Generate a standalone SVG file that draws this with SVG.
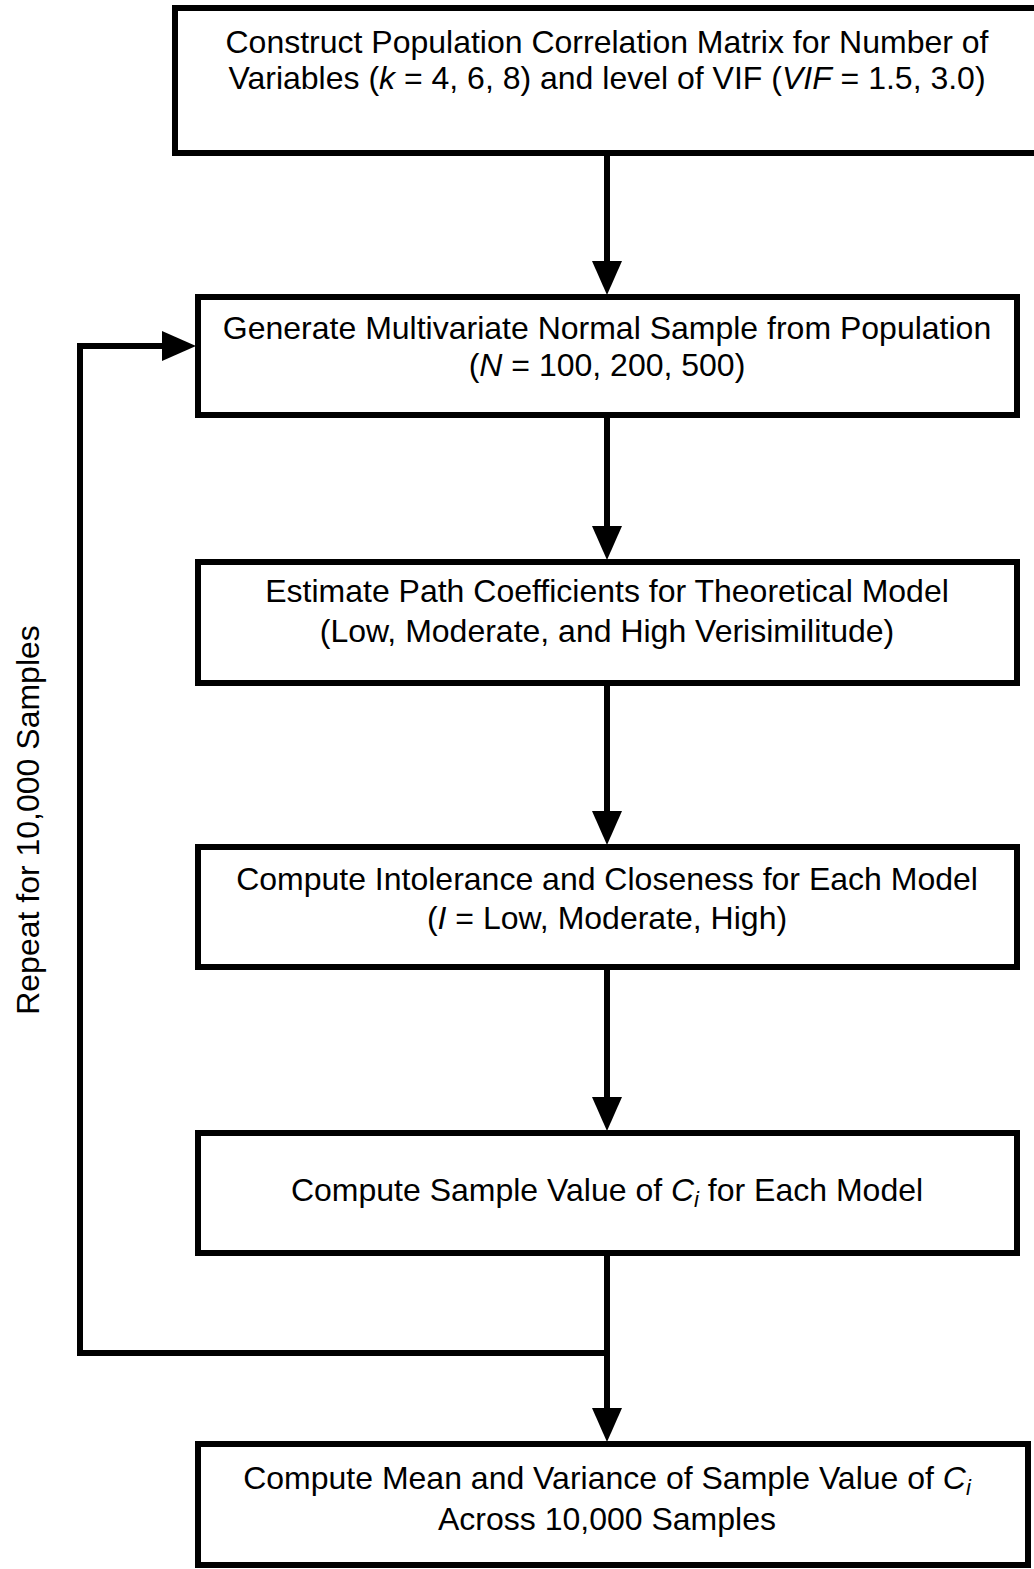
<svg xmlns="http://www.w3.org/2000/svg" width="1034" height="1569" viewBox="0 0 1034 1569">
  <style>
    .box { fill: #ffffff; stroke: #000000; stroke-width: 6; }
    .lbl { font-family: "Liberation Sans", Arial, sans-serif; font-size: 32px; fill: #000000; text-anchor: middle; }
    .it { font-style: italic; }
    .sub { font-size: 22px; font-style: italic; }
    .wire { fill: none; stroke: #000000; stroke-width: 6; stroke-linejoin: miter; }
  </style>
  <defs>
    <marker id="head" viewBox="0 0 34 30" refX="0" refY="15" markerWidth="34" markerHeight="30" markerUnits="userSpaceOnUse" orient="auto">
      <path d="M0,0 L34,15 L0,30 Z" fill="#000000"/>
    </marker>
  </defs>

  <rect width="1034" height="1569" fill="#ffffff"/>

  <g id="connectors">
    <line class="wire" x1="607" y1="153" x2="607" y2="261" marker-end="url(#head)"/>
    <line class="wire" x1="607" y1="415" x2="607" y2="526" marker-end="url(#head)"/>
    <line class="wire" x1="607" y1="683" x2="607" y2="811" marker-end="url(#head)"/>
    <line class="wire" x1="607" y1="967" x2="607" y2="1097" marker-end="url(#head)"/>
    <line class="wire" x1="607" y1="1253" x2="607" y2="1408" marker-end="url(#head)"/>
    <polyline class="wire" points="607,1353 80,1353 80,346 162,346" marker-end="url(#head)"/>
  </g>

  <g id="node-construct">
    <rect class="box" x="175" y="8" width="870" height="145"/>
    <text class="lbl" x="607" y="53">Construct Population Correlation Matrix for Number of</text>
    <text class="lbl" x="607" y="89">Variables (<tspan class="it">k</tspan> = 4, 6, 8) and level of VIF (<tspan class="it">VIF</tspan> = 1.5, 3.0)</text>
  </g>

  <g id="node-generate">
    <rect class="box" x="198" y="297" width="819" height="118"/>
    <text class="lbl" x="607" y="339">Generate Multivariate Normal Sample from Population</text>
    <text class="lbl" x="607" y="376">(<tspan class="it">N</tspan> = 100, 200, 500)</text>
  </g>

  <g id="node-estimate">
    <rect class="box" x="198" y="562" width="819" height="121"/>
    <text class="lbl" x="607" y="602">Estimate Path Coefficients for Theoretical Model</text>
    <text class="lbl" x="607" y="642">(Low, Moderate, and High Verisimilitude)</text>
  </g>

  <g id="node-intolerance">
    <rect class="box" x="198" y="847" width="819" height="120"/>
    <text class="lbl" x="607" y="890">Compute Intolerance and Closeness for Each Model</text>
    <text class="lbl" x="607" y="929">(<tspan class="it">I</tspan> = Low, Moderate, High)</text>
  </g>

  <g id="node-sample-ci">
    <rect class="box" x="198" y="1133" width="819" height="120"/>
    <text class="lbl" x="607" y="1201">Compute Sample Value of <tspan class="it">C</tspan><tspan class="sub" dy="6">i</tspan><tspan dy="-6"> for Each Model</tspan></text>
  </g>

  <g id="node-mean-variance">
    <rect class="box" x="198" y="1444" width="830" height="121"/>
    <text class="lbl" x="607" y="1489">Compute Mean and Variance of Sample Value of <tspan class="it">C</tspan><tspan class="sub" dy="6">i</tspan></text>
    <text class="lbl" x="607" y="1530">Across 10,000 Samples</text>
  </g>

  <g id="loop-label">
    <text class="lbl" transform="translate(39,820) rotate(-90)">Repeat for 10,000 Samples</text>
  </g>
</svg>
